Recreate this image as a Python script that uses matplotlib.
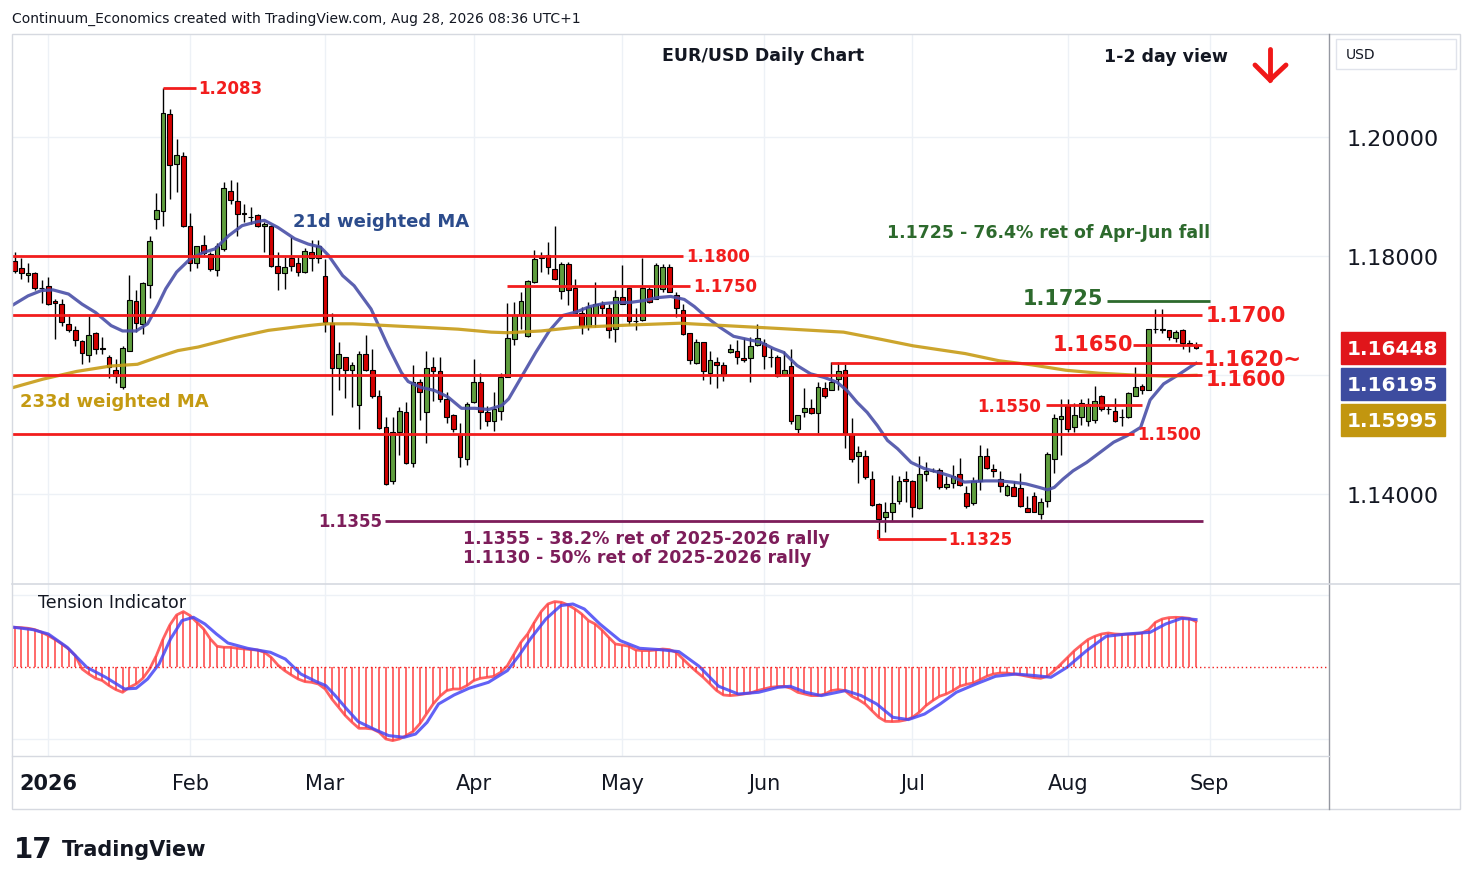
import numpy as np
import pandas as pd
import matplotlib
matplotlib.use("Agg")
import matplotlib.pyplot as plt
from matplotlib.lines import Line2D
from matplotlib.patches import Rectangle

W, H = 1474, 887

# trading days shown (Dec 25 and Jan 1 are holidays on the feed)
dates = pd.bdate_range("2025-12-24", "2026-08-28")
dates = dates[~dates.isin(pd.to_datetime(["2025-12-25", "2026-01-01"]))]

opens = [1.1791, 1.1779, 1.1768, 1.1771, 1.1747, 1.1749, 1.1724, 1.1720, 1.1685, 1.1676,
         1.1657, 1.1634, 1.1670, 1.1645, 1.1631, 1.1608, 1.1579, 1.1641, 1.1724, 1.1685,
         1.1752, 1.1862, 1.1875, 1.2038, 1.1954, 1.1968, 1.1850, 1.1788, 1.1818, 1.1803,
         1.1776, 1.1811, 1.1910, 1.1893, 1.1872, 1.1866, 1.1869, 1.1850, 1.1851, 1.1784,
         1.1771, 1.1796, 1.1788, 1.1773, 1.1807, 1.1796, 1.1767, 1.1688, 1.1612, 1.1630,
         1.1608, 1.1550, 1.1636, 1.1608, 1.1565, 1.1512, 1.1421, 1.1505, 1.1537, 1.1452,
         1.1588, 1.1537, 1.1613, 1.1607, 1.1559, 1.1533, 1.1501, 1.1459, 1.1554, 1.1588,
         1.1538, 1.1523, 1.1540, 1.1597, 1.1661, 1.1700, 1.1665, 1.1757, 1.1799, 1.1801,
         1.1778, 1.1741, 1.1786, 1.1747, 1.1705, 1.1682, 1.1701, 1.1720, 1.1712, 1.1678,
         1.1731, 1.1747, 1.1691, 1.1692, 1.1745, 1.1728, 1.1745, 1.1781, 1.1734, 1.1709,
         1.1670, 1.1620, 1.1655, 1.1604, 1.1622, 1.1617, 1.1638, 1.1640, 1.1629, 1.1629,
         1.1650, 1.1653, 1.1630, 1.1630, 1.1602, 1.1615, 1.1510, 1.1537, 1.1544, 1.1536,
         1.1578, 1.1575, 1.1593, 1.1609, 1.1500, 1.1463, 1.1463, 1.1426, 1.1383, 1.1361,
         1.1370, 1.1389, 1.1425, 1.1421, 1.1376, 1.1434, 1.1439, 1.1441, 1.1412, 1.1418,
         1.1434, 1.1402, 1.1385, 1.1421, 1.1463, 1.1442, 1.1425, 1.1398, 1.1411, 1.1410,
         1.1376, 1.1396, 1.1366, 1.1389, 1.1459, 1.1526, 1.1548, 1.1512, 1.1529, 1.1523,
         1.1525, 1.1565, 1.1543, 1.1540, 1.1530, 1.1529, 1.1565, 1.1581, 1.1575, 1.1678,
         1.1677, 1.1675, 1.1662, 1.1676, 1.1653, 1.1650]
highs = [1.1806, 1.1796, 1.1788, 1.1773, 1.1760, 1.1765, 1.1728, 1.1727, 1.1702, 1.1683,
         1.1658, 1.1699, 1.1673, 1.1663, 1.1633, 1.1627, 1.1649, 1.1768, 1.1743, 1.1757,
         1.1834, 1.1906, 1.2083, 1.2047, 1.1997, 1.1975, 1.1873, 1.1817, 1.1836, 1.1806,
         1.1822, 1.1925, 1.1927, 1.1925, 1.1887, 1.1883, 1.1870, 1.1857, 1.1852, 1.1806,
         1.1798, 1.1832, 1.1798, 1.1813, 1.1827, 1.1827, 1.1795, 1.1705, 1.1655, 1.1631,
         1.1622, 1.1640, 1.1667, 1.1644, 1.1574, 1.1529, 1.1529, 1.1547, 1.1555, 1.1617,
         1.1594, 1.1640, 1.1631, 1.1631, 1.1571, 1.1534, 1.1520, 1.1554, 1.1627, 1.1604,
         1.1548, 1.1571, 1.1603, 1.1721, 1.1722, 1.1739, 1.1759, 1.1810, 1.1806, 1.1824,
         1.1850, 1.1790, 1.1790, 1.1761, 1.1714, 1.1722, 1.1756, 1.1725, 1.1719, 1.1742,
         1.1785, 1.1748, 1.1712, 1.1796, 1.1748, 1.1788, 1.1787, 1.1787, 1.1739, 1.1719,
         1.1671, 1.1661, 1.1656, 1.1641, 1.1630, 1.1621, 1.1652, 1.1658, 1.1662, 1.1663,
         1.1686, 1.1661, 1.1646, 1.1633, 1.1641, 1.1644, 1.1533, 1.1578, 1.1560, 1.1589,
         1.1589, 1.1621, 1.1621, 1.1618, 1.1527, 1.1480, 1.1474, 1.1439, 1.1384, 1.1387,
         1.1432, 1.1431, 1.1438, 1.1423, 1.1463, 1.1454, 1.1443, 1.1443, 1.1431, 1.1449,
         1.1460, 1.1414, 1.1428, 1.1482, 1.1478, 1.1450, 1.1438, 1.1417, 1.1422, 1.1436,
         1.1397, 1.1403, 1.1393, 1.1471, 1.1534, 1.1560, 1.1560, 1.1553, 1.1560, 1.1561,
         1.1581, 1.1566, 1.1550, 1.1562, 1.1543, 1.1571, 1.1613, 1.1585, 1.1678, 1.1711,
         1.1711, 1.1676, 1.1676, 1.1677, 1.1659, 1.1655]
lows = [1.1771, 1.1761, 1.1756, 1.1743, 1.1721, 1.1717, 1.1661, 1.1683, 1.1673, 1.1649,
        1.1618, 1.1622, 1.1635, 1.1635, 1.1595, 1.1586, 1.1577, 1.1640, 1.1672, 1.1669,
        1.1729, 1.1845, 1.1851, 1.1896, 1.1907, 1.1848, 1.1775, 1.1780, 1.1801, 1.1775,
        1.1766, 1.1809, 1.1887, 1.1833, 1.1857, 1.1854, 1.1848, 1.1806, 1.1782, 1.1742,
        1.1745, 1.1775, 1.1767, 1.1772, 1.1775, 1.1788, 1.1673, 1.1532, 1.1575, 1.1561,
        1.1547, 1.1509, 1.1606, 1.1562, 1.1510, 1.1415, 1.1417, 1.1466, 1.1451, 1.1445,
        1.1525, 1.1486, 1.1557, 1.1555, 1.1519, 1.1504, 1.1445, 1.1448, 1.1553, 1.1509,
        1.1514, 1.1506, 1.1525, 1.1596, 1.1650, 1.1677, 1.1664, 1.1755, 1.1773, 1.1770,
        1.1760, 1.1728, 1.1718, 1.1704, 1.1669, 1.1675, 1.1680, 1.1703, 1.1662, 1.1656,
        1.1719, 1.1684, 1.1676, 1.1691, 1.1721, 1.1727, 1.1739, 1.1739, 1.1697, 1.1668,
        1.1618, 1.1619, 1.1592, 1.1585, 1.1578, 1.1590, 1.1637, 1.1618, 1.1621, 1.1588,
        1.1649, 1.1610, 1.1613, 1.1596, 1.1599, 1.1518, 1.1503, 1.1529, 1.1535, 1.1503,
        1.1562, 1.1574, 1.1575, 1.1478, 1.1453, 1.1418, 1.1426, 1.1380, 1.1325, 1.1336,
        1.1355, 1.1383, 1.1386, 1.1361, 1.1375, 1.1421, 1.1437, 1.1408, 1.1408, 1.1410,
        1.1414, 1.1377, 1.1382, 1.1407, 1.1442, 1.1428, 1.1404, 1.1397, 1.1396, 1.1378,
        1.1369, 1.1369, 1.1358, 1.1378, 1.1436, 1.1466, 1.1505, 1.1504, 1.1516, 1.1515,
        1.1519, 1.1540, 1.1534, 1.1521, 1.1514, 1.1527, 1.1564, 1.1568, 1.1574, 1.1671,
        1.1671, 1.1658, 1.1655, 1.1644, 1.1639, 1.1643]
closes = [1.1775, 1.1771, 1.1771, 1.1747, 1.1746, 1.1719, 1.1721, 1.1689, 1.1675, 1.1658,
          1.1637, 1.1667, 1.1643, 1.1644, 1.1613, 1.1599, 1.1645, 1.1726, 1.1687, 1.1755,
          1.1826, 1.1878, 1.2040, 1.1953, 1.1969, 1.1850, 1.1789, 1.1816, 1.1805, 1.1778,
          1.1816, 1.1914, 1.1894, 1.1871, 1.1871, 1.1865, 1.1851, 1.1854, 1.1783, 1.1771,
          1.1781, 1.1784, 1.1773, 1.1809, 1.1796, 1.1816, 1.1689, 1.1611, 1.1635, 1.1608,
          1.1616, 1.1636, 1.1608, 1.1565, 1.1511, 1.1417, 1.1504, 1.1539, 1.1452, 1.1588,
          1.1571, 1.1611, 1.1606, 1.1559, 1.1529, 1.1510, 1.1462, 1.1552, 1.1589, 1.1538,
          1.1522, 1.1542, 1.1596, 1.1662, 1.1700, 1.1724, 1.1758, 1.1795, 1.1796, 1.1781,
          1.1761, 1.1787, 1.1743, 1.1705, 1.1682, 1.1715, 1.1720, 1.1712, 1.1676, 1.1731,
          1.1720, 1.1690, 1.1690, 1.1747, 1.1722, 1.1785, 1.1781, 1.1740, 1.1712, 1.1669,
          1.1625, 1.1655, 1.1606, 1.1625, 1.1617, 1.1602, 1.1644, 1.1631, 1.1625, 1.1648,
          1.1662, 1.1632, 1.1631, 1.1599, 1.1609, 1.1522, 1.1532, 1.1544, 1.1536, 1.1579,
          1.1565, 1.1589, 1.1607, 1.1503, 1.1459, 1.1470, 1.1428, 1.1382, 1.1358, 1.1369,
          1.1385, 1.1422, 1.1421, 1.1378, 1.1434, 1.1438, 1.1438, 1.1411, 1.1417, 1.1431,
          1.1415, 1.1379, 1.1421, 1.1463, 1.1443, 1.1438, 1.1413, 1.1414, 1.1397, 1.1379,
          1.1370, 1.1370, 1.1386, 1.1467, 1.1528, 1.1531, 1.1509, 1.1533, 1.1553, 1.1551,
          1.1557, 1.1543, 1.1542, 1.1523, 1.1529, 1.1569, 1.1579, 1.1574, 1.1677, 1.1677,
          1.1676, 1.1663, 1.1673, 1.1654, 1.1652, 1.16448]

# 21d weighted MA (bar position, price)
wma21_x = [-5.2, -3, -1, 0.7, 3, 5, 7, 9.3, 11, 13, 14.7, 16.2, 17.4, 19, 21, 23, 24.7, 26.7,
           28.7, 30.7, 32, 34, 36.5, 38.5, 40.3, 41.5, 43.6, 45.3, 47.8, 50.3, 52.3, 53.3,
           55.2, 57.2, 59.2, 61.2, 63.2, 65.2, 67.2, 68.2, 70.2, 72.2, 74.2, 76.2, 78.2,
           80.2, 82.2, 84.2, 86.2, 88.2, 90.2, 92.2, 94.2, 95.7, 97.5, 99.5, 101.5, 103.5,
           105.5, 107.5, 108.9, 110.9, 112.9, 114.9, 116.8, 118.3, 119.8, 121.3, 122.8,
           124.3, 125.8, 127.8, 129.7, 131.7, 133.7, 135.7, 138.8, 140.8, 142.8, 144.8,
           146.8, 148, 149, 150.3, 151.8, 153.8, 155.8, 157.8, 159.8, 161.8, 163.2, 165.2,
           167.2, 169.6, 170]
wma21_y = [1.1718, 1.1733, 1.1742, 1.1743, 1.1736, 1.1719, 1.1705, 1.1683, 1.1674, 1.1674,
           1.1686, 1.1717, 1.1745, 1.1773, 1.1795, 1.1806, 1.1812, 1.1834, 1.1851, 1.1857,
           1.1860, 1.1848, 1.1829, 1.1820, 1.1815, 1.1801, 1.1767, 1.1750, 1.1711, 1.1649,
           1.1604, 1.1589, 1.1579, 1.1574, 1.1563, 1.1544, 1.1544, 1.1542, 1.1549, 1.1560,
           1.1599, 1.1638, 1.1674, 1.1700, 1.1706, 1.1715, 1.1720, 1.1722, 1.1722, 1.1725,
           1.1730, 1.1732, 1.1727, 1.1715, 1.1697, 1.1680, 1.1665, 1.1660, 1.1655, 1.1644,
           1.1638, 1.1616, 1.1602, 1.1596, 1.1588, 1.1574, 1.1554, 1.1537, 1.1515, 1.1490,
           1.1476, 1.1453, 1.1443, 1.1437, 1.1430, 1.1420, 1.1422, 1.1422, 1.1420, 1.1417,
           1.1411, 1.1407, 1.1411, 1.1425, 1.1439, 1.1453, 1.1470, 1.1487, 1.1498, 1.1512,
           1.1558, 1.1585, 1.1599, 1.1617, 1.16195]

# 233d weighted MA
wma233_x = [-5.2, -0.8, 4.2, 9.2, 13.2, 16.2, 19.2, 22.2, 27.7, 32.6, 37.6, 41.1, 45.1, 48.6,
            52, 55.7, 60.7, 65.6, 68.1, 73, 78, 86.2, 93.5, 98.5, 103.5, 108.5, 117.8,
            123.3, 128.1, 135.8, 140.8, 145.7, 150.7, 155.6, 160.6, 165.5, 170]
wma233_y = [1.1579, 1.1593, 1.1606, 1.1615, 1.1618, 1.1630, 1.1641, 1.1647, 1.1663, 1.1675,
            1.1682, 1.1686, 1.1686, 1.1684, 1.1682, 1.1680, 1.1677, 1.1672, 1.1671, 1.1674,
            1.1680, 1.1684, 1.1687, 1.1684, 1.1681, 1.1678, 1.1672, 1.1660, 1.1649, 1.1636,
            1.1624, 1.1617, 1.1608, 1.1603, 1.1600, 1.1598, 1.15995]

# tension indicator, one value per bar
tension = [4.00, 3.97, 3.90, 3.77, 3.50, 3.17, 2.77, 2.33, 1.83, 1.17,
           -0.17, -0.67, -1.10, -1.33, -1.83, -2.23, -2.50, -2.00, -1.67, -1.10,
           -0.17, 1.17, 2.83, 4.23, 5.23, 5.57, 5.17, 4.50, 3.83, 2.83,
           2.10, 2.00, 2.00, 1.90, 1.83, 1.77, 1.73, 1.50, 1.00, 0.23,
           -0.33, -0.77, -1.17, -1.43, -1.50, -1.67, -2.17, -3.17, -4.00, -4.83,
           -5.50, -6.10, -6.10, -6.17, -6.50, -7.17, -7.33, -7.17, -6.83, -6.43,
           -5.67, -4.67, -3.67, -2.90, -2.33, -2.17, -2.17, -1.83, -1.33, -1.10,
           -1.00, -0.90, -0.50, 0.17, 1.33, 2.50, 3.33, 4.50, 5.57, 6.33,
           6.57, 6.50, 6.23, 5.83, 5.33, 4.67, 4.33, 3.73, 3.00, 2.33,
           2.23, 2.10, 1.73, 1.67, 1.67, 1.73, 1.83, 1.77, 1.50, 0.83,
           0.17, -0.43, -1.00, -1.67, -2.33, -2.77, -2.83, -2.77, -2.67, -2.57,
           -2.33, -2.17, -2.00, -1.93, -1.90, -2.10, -2.50, -2.67, -2.83, -2.83,
           -2.67, -2.33, -2.23, -2.33, -2.90, -3.23, -3.67, -4.33, -5.00, -5.40,
           -5.43, -5.40, -5.27, -5.00, -4.50, -3.83, -3.33, -2.90, -2.67, -2.33,
           -1.90, -1.70, -1.57, -1.23, -0.90, -0.67, -0.57, -0.57, -0.67, -0.77,
           -0.90, -1.03, -1.10, -0.90, -0.33, 0.33, 1.00, 1.67, 2.23, 2.77,
           3.10, 3.33, 3.43, 3.33, 3.30, 3.30, 3.33, 3.43, 3.77, 4.50,
           4.83, 4.97, 5.00, 4.97, 4.90, 4.57]
signal_x = [-5.1, -2.3, 0, 2.8, 5.7, 8.5, 11.3, 13.0, 14.7, 16.4, 18.1, 19.8, 21.5, 23.2, 24.9,
            26.6, 29.5, 32.9, 35.1, 37.4, 39.7, 41.1, 42.5, 44.2, 45.9, 48.2, 50.4, 52.7, 54.4,
            56.1, 57.8, 60.1, 62.3, 65.2, 68.0, 69.7, 71.4, 73.7, 75.9, 77.7, 79.4, 81.7,
            84.7, 87.6, 90.5, 93.4, 96.4, 99.3, 102.2, 105.2, 108.1, 109.9, 112.2, 114.5,
            118.1, 120.4, 122.7, 125.1, 127.4, 129.8, 132.1, 134.5, 137.4, 140.3, 143.3,
            146.2, 148.5, 150.9, 153.8, 156.7, 159.7, 163.2, 165.5, 167.9, 170.0]
signal_y = [4.00, 3.77, 3.33, 2.00, 0.00, -1.00, -2.17, -2.10, -1.17, 0.33, 2.83, 4.67, 5.00,
            4.33, 3.33, 2.43, 1.90, 1.50, 0.83, -0.67, -1.43, -1.83, -2.83, -4.17, -5.43,
            -6.17, -6.83, -7.00, -6.67, -5.50, -3.67, -2.77, -2.10, -1.50, -0.33, 1.17, 2.83,
            4.83, 6.17, 6.33, 5.83, 4.33, 2.67, 1.90, 1.77, 1.57, 0.10, -1.90, -2.67, -2.50,
            -2.00, -1.90, -2.50, -2.83, -2.33, -2.83, -3.67, -5.00, -5.23, -4.67, -3.67,
            -2.50, -1.67, -0.90, -0.67, -0.83, -1.00, 0.00, 1.67, 3.10, 3.33, 3.50, 4.33,
            4.90, 4.77]

# support / resistance levels
levels_red = [1.1800, 1.1750, 1.1700, 1.1650, 1.1620, 1.1600, 1.1550, 1.1500]
level_fib = 1.1355
level_high = 1.2083
level_low = 1.1325
level_target = 1.1725

x = np.arange(len(dates)) - 5          # Jan 2 2026 = bar 0
n_after = int(np.busday_count("2026-08-28", "2026-09-01"))
month_pos, month_lab = [], []
for i in range(1, len(dates)):
    if dates[i].month != dates[i - 1].month:
        month_pos.append(x[i])
        month_lab.append("2026" if dates[i].month == 1 else dates[i].strftime("%b"))
month_pos.append(x[-1] + n_after)
month_lab.append("Sep")

RED = "#f21d1d"
GRID = "#edf1f6"
INK = "#131722"


def fpx(px, py):
    return px / W, 1 - py / H


fig = plt.figure(figsize=(W / 100, H / 100), dpi=100)
ax = fig.add_axes([12 / W, 1 - 585 / H, 1317 / W, 550 / H])
ax2 = fig.add_axes([12 / W, 1 - 757 / H, 1317 / W, 172 / H], sharex=ax)

for a in (ax, ax2):
    for s in a.spines.values():
        s.set_visible(False)
    a.set_xticks(month_pos)
    a.grid(True, color=GRID, lw=1)
    a.set_axisbelow(True)

ax.set_xlim(-5.38, 189.7)
ax.set_ylim(1.12487, 1.21731)
ax2.set_ylim(-8.87, 8.33)

# price panel (the 1.16 label sits under the value boxes)
yt = [1.14, 1.16, 1.18, 1.20]
ax.yaxis.tick_right()
ax.set_yticks(yt)
ax.set_yticklabels(["" if v == 1.16 else f"{v:.5f}" for v in yt], fontsize=16, color=INK)
ax.tick_params(axis="y", length=0, pad=13)
ax.tick_params(axis="x", length=0, labelbottom=False)

o, h, l, c = map(np.array, (opens, highs, lows, closes))
up = c >= o
ax.vlines(x, l, h, color="black", lw=1, zorder=3)
ax.bar(x, np.maximum(np.abs(c - o), 0.00004), bottom=np.minimum(o, c), width=0.7,
       color=np.where(up, "#5f9e3e", "#d30000"), edgecolor="black", linewidth=0.8, zorder=4)

ax.plot(wma21_x, wma21_y, color="#4a50a8", lw=2.3, alpha=0.9, zorder=5)
ax.plot(wma233_x, wma233_y, color="#c79b16", lw=2.3, alpha=0.9, zorder=5)

# level lines: start / end in bar units
spans = {1.1800: (-5.4, 94.0), 1.1750: (68.0, 95.1), 1.1700: (-5.4, 170.9),
         1.1650: (160.7, 170.9), 1.1620: (116.0, 170.9), 1.1600: (-5.4, 170.9),
         1.1550: (147.8, 162.0), 1.1500: (-5.4, 160.8)}
for lv in levels_red:
    ax.hlines(lv, *spans[lv], color=RED, lw=2, zorder=6)
ax.hlines(level_fib, 49.9, 171.0, color="#7d1d5a", lw=2, zorder=6)
ax.hlines(level_high, 17.0, 21.9, color=RED, lw=2, zorder=6)
ax.hlines(level_low, 122.9, 132.9, color=RED, lw=2, zorder=6)
ax.vlines(122.9, level_low, 1.1340, color=RED, lw=1.5, zorder=6)
ax.hlines(level_target, 156.8, 172.1, color="#2d6a2d", lw=2, zorder=6)

small = dict(fontsize=12, fontweight="bold", va="center", zorder=7)
big = dict(fontsize=15, fontweight="bold", va="center", zorder=7)
ax.text(94.5, 1.1800, f"{1.1800:.4f}", color=RED, **small)
ax.text(95.5, 1.1750, f"{1.1750:.4f}", color=RED, **small)
ax.text(171.4, 1.1700, f"{1.1700:.4f}", color=RED, **big)
ax.text(160.7, 1.1652, f"{1.1650:.4f}", color=RED, ha="right", **big)
ax.text(171.2, 1.1627, f"{1.1620:.4f}~", color=RED, **big)
ax.text(171.4, 1.1594, f"{1.1600:.4f}", color=RED, **big)
ax.text(147.1, 1.1548, f"{1.1550:.4f}", color=RED, ha="right", **small)
ax.text(161.3, 1.1500, f"{1.1500:.4f}", color=RED, **small)
ax.text(133.3, level_low, f"{level_low:.4f}", color=RED, **small)
ax.text(22.2, level_high, f"{level_high:.4f}", color=RED, **small)
ax.text(49.4, level_fib, f"{level_fib:.4f}", color="#7d1d5a", ha="right", **small)
ax.text(156.2, 1.1729, f"{level_target:.4f}", color="#2d6a2d", ha="right", **big)

# last value boxes on the price scale
boxes = [(closes[-1], "#e0161b"), (wma21_y[-1], "#3d4c9f"), (wma233_y[-1], "#c2960f")]
for k, (val, col) in enumerate(boxes):
    ax.annotate(f"{val:.5f}", xy=(1.0, closes[-1]), xycoords=("axes fraction", "data"),
                xytext=(18, -36 * k), textcoords="offset pixels", ha="left", va="center",
                fontsize=14.5, fontweight="bold", color="white", annotation_clip=False,
                bbox=dict(boxstyle="square,pad=0.32", fc=col, ec=col), zorder=8)

# tension indicator panel
ax2.vlines(x, 0, tension, color="#ff5a5a", lw=1.4, alpha=0.9)
ax2.plot(x, tension, color="#ff4747", lw=2, alpha=0.85)
ax2.plot(signal_x, signal_y, color="#4646f5", lw=2.2, alpha=0.85)
ax2.axhline(0, color=RED, lw=1, ls=(0, (1, 2)))
ax2.set_yticks([-7.2, 7.2])
ax2.tick_params(axis="y", length=0, labelleft=False, labelright=False)
ax2.set_xticks(month_pos)
ax2.set_xticklabels(month_lab, fontsize=15, color=INK)
ax2.tick_params(axis="x", length=0, pad=12)
ax2.get_xticklabels()[0].set_fontweight("bold")

# frame and separators
frame = "#d6d9e0"
fig.add_artist(Rectangle(fpx(12, 810), 1448 / W, 775 / H, transform=fig.transFigure,
                         fill=False, ec=frame, lw=1))
fig.add_artist(Line2D([1329 / W] * 2, [1 - 35 / H, 1 - 810 / H], color="#9598a1", lw=1))
fig.add_artist(Line2D([12 / W, 1460 / W], [1 - 585 / H] * 2, color=frame, lw=1.2))
fig.add_artist(Line2D([12 / W, 1329 / W], [1 - 757 / H] * 2, color=frame, lw=1))

# texts
fig.text(*fpx(12, 19), "Continuum_Economics created with TradingView.com, Aug 28, 2026 08:36 UTC+1",
         fontsize=10, color=INK, va="center")
fig.text(*fpx(763, 56), "EUR/USD Daily Chart", fontsize=12.5, fontweight="bold", color=INK,
         ha="center", va="center")
fig.text(*fpx(1104, 57), "1-2 day view", fontsize=12.5, fontweight="bold", color=INK, va="center")
fig.text(*fpx(293, 222), "21d weighted MA", fontsize=13, fontweight="bold", color="#2c4c8c",
         va="center")
fig.text(*fpx(20, 402), "233d weighted MA", fontsize=13, fontweight="bold", color="#c49a12",
         va="center")
fig.text(*fpx(887, 233), "1.1725 - 76.4% ret of Apr-Jun fall", fontsize=12.5, fontweight="bold",
         color="#2d6a2d", va="center")
fig.text(*fpx(463, 539), "1.1355 - 38.2% ret of 2025-2026 rally", fontsize=12.5,
         fontweight="bold", color="#7d1d5a", va="center")
fig.text(*fpx(463, 558), "1.1130 - 50% ret of 2025-2026 rally", fontsize=12.5,
         fontweight="bold", color="#7d1d5a", va="center")
fig.text(*fpx(38, 603), "Tension Indicator", fontsize=12.5, color=INK, va="center")

# USD box
fig.add_artist(Rectangle(fpx(1336, 70), 120 / W, 30 / H, transform=fig.transFigure,
                         fill=False, ec="#e0e3eb", lw=1))
fig.text(*fpx(1346, 55), "USD", fontsize=10, color=INK, va="center")

# red down arrow
arrow = dict(color="#f01818", lw=3.5, solid_capstyle="round")
fig.add_artist(Line2D([1270 / W] * 2, [1 - 50 / H, 1 - 81 / H], **arrow))
fig.add_artist(Line2D([1255 / W, 1270 / W, 1286 / W], [1 - 66 / H, 1 - 81 / H, 1 - 66 / H],
                      solid_joinstyle="miter", **arrow))

# TradingView logo
fig.text(*fpx(14, 850), "17", fontsize=20, fontweight="heavy", color=INK, va="center")
fig.text(*fpx(62, 850), "TradingView", fontsize=15, fontweight="bold", color=INK, va="center")

fig.savefig("out.png", dpi=100, facecolor="white")
